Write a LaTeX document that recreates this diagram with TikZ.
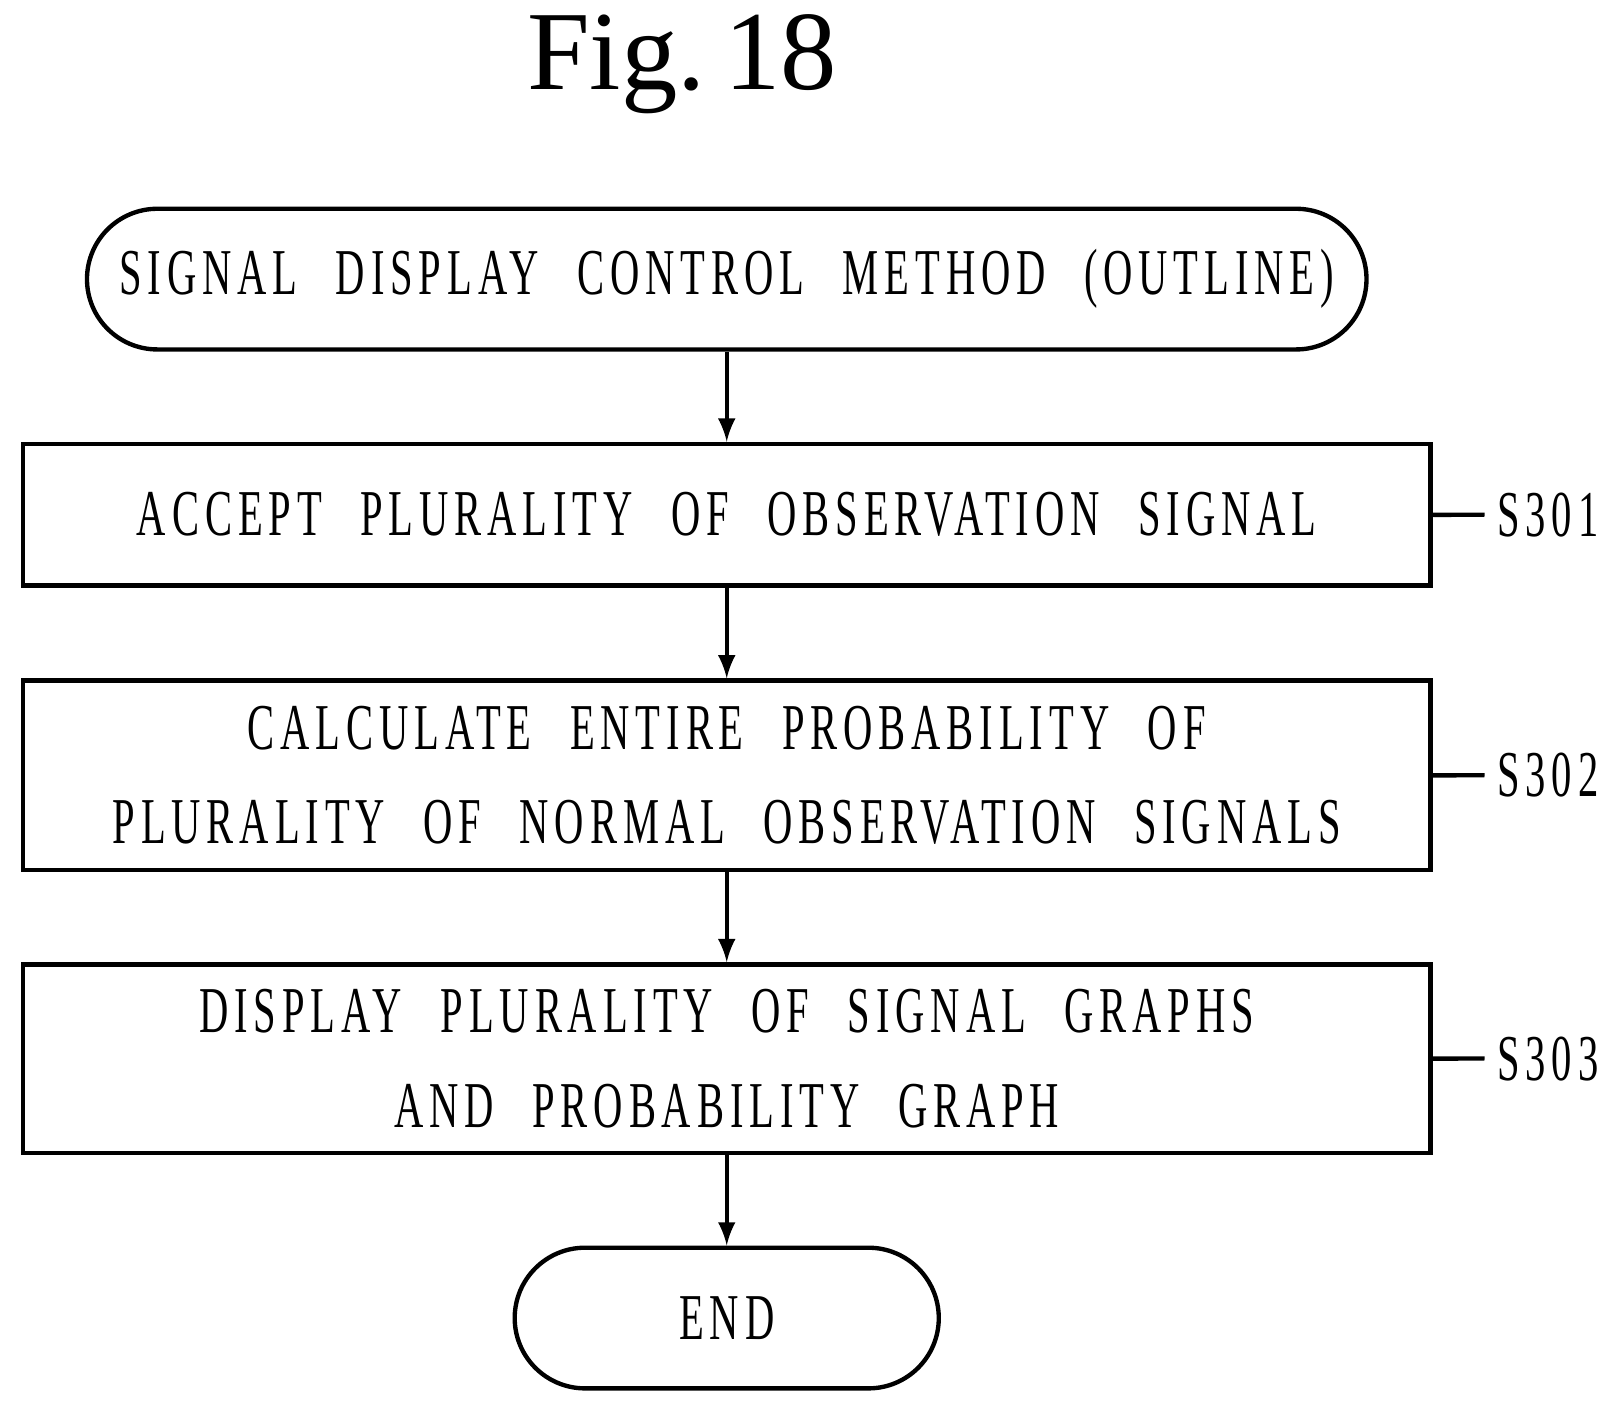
\documentclass[tikz,border=0pt]{standalone}
\usepackage{fontspec}
\setmainfont[FakeStretch=0.62,WordSpace=2.4,LetterSpace=9]{Liberation Serif}
\newfontfamily\titlefont{Liberation Serif}
\usetikzlibrary{positioning}
\tikzset{
  stepbox/.style={draw, line width=1.2pt, minimum width=13.61cm, align=center, font=\fontsize{18}{19}\selectfont},
  term/.style={stepbox, rounded corners=0.68cm, minimum height=1.36cm},
  flow/.style={line width=1.2pt, ->, >=latex},
  tag/.style={font=\fontsize{18}{22}\selectfont, anchor=west}
}
\begin{document}
\begin{tikzpicture}[x=0.01cm,y=-0.01cm]
	\useasboundingbox (0,0) rectangle (1570,1368);

	\node[font=\titlefont\fontsize{31}{33}\selectfont] (fig) at (660,62) {Fig.\,18};

	\node[term, minimum width=12.37cm] (start) at (703,270) {SIGNAL DISPLAY CONTROL METHOD (OUTLINE)};
	\node[stepbox, minimum height=1.37cm] (s1) at (703,498) {ACCEPT PLURALITY OF OBSERVATION SIGNAL};
	\node[stepbox, minimum height=1.83cm] (s2) at (703,750) {CALCULATE ENTIRE PROBABILITY OF\\[0.25cm]PLURALITY OF NORMAL OBSERVATION SIGNALS};
	\node[stepbox, minimum height=1.82cm] (s3) at (703,1024) {DISPLAY PLURALITY OF SIGNAL GRAPHS\\[0.25cm]AND PROBABILITY GRAPH};
	\node[term, minimum width=4.1cm] (end) at (703,1275) {END};

	\draw[flow] (start) -- (s1);
	\draw[flow] (s1) -- (s2);
	\draw[flow] (s2) -- (s3);
	\draw[flow] (s3) -- (end);

	\foreach \s/\t in {s1/S301, s2/S302, s3/S303} {
		\node[tag] (\s tag) at ([xshift=0.5cm]\s.east) {\t};
		\draw[line width=1.2pt] (\s.east) .. controls +(0.15,0.12) and +(-0.2,-0.12) .. (\s tag.west);
	}
\end{tikzpicture}
\end{document}
